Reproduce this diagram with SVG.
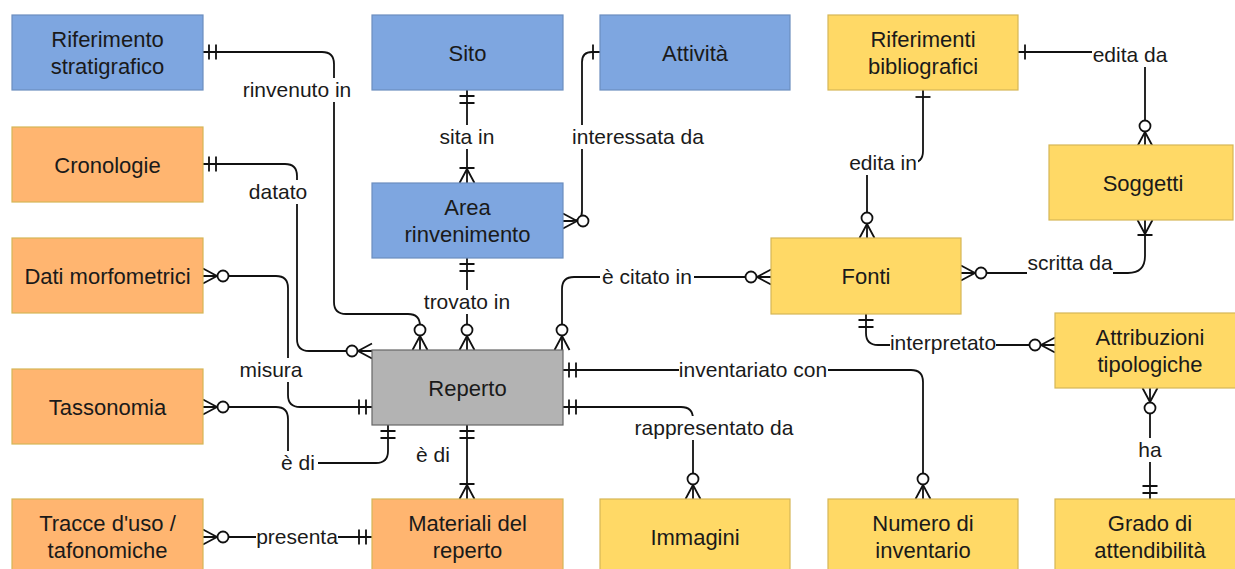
<svg xmlns="http://www.w3.org/2000/svg" width="1235" height="569" viewBox="0 0 1235 569">
<style>
.n rect{stroke-width:1.2}
.blue rect{fill:#7EA6E0;stroke:#6C8EBF}
.orange rect{fill:#FFB570;stroke:#D6B656}
.yellow rect{fill:#FFD966;stroke:#D6B656}
.gray rect{fill:#B3B3B3;stroke:#666666}
.n text{font-family:"Liberation Sans",Arial,sans-serif;font-size:22px;fill:#1a1a1a;text-anchor:middle}
.c path{fill:none;stroke:#111;stroke-width:1.8}
.mk{fill:none;stroke:#111;stroke-width:1.8}
.mkc{fill:#fff;stroke:#111;stroke-width:1.8}
.lb rect{fill:#fff;stroke:none}
.lb text{font-family:"Liberation Sans",Arial,sans-serif;font-size:21px;fill:#1a1a1a;text-anchor:middle}
</style>
<defs>
<marker id="one" markerUnits="userSpaceOnUse" orient="auto-start-reverse" overflow="visible" refX="0" refY="0" markerWidth="40" markerHeight="40"><path class="mk" d="M-7,-7.5V7.5"/></marker>
<marker id="mone" markerUnits="userSpaceOnUse" orient="auto-start-reverse" overflow="visible" refX="0" refY="0" markerWidth="40" markerHeight="40"><path class="mk" d="M-6,-7.5V7.5M-13,-7.5V7.5"/></marker>
<marker id="zmany" markerUnits="userSpaceOnUse" orient="auto-start-reverse" overflow="visible" refX="0" refY="0" markerWidth="40" markerHeight="40"><path class="mk" d="M0,-7.5L-14,0L0,7.5"/><circle class="mkc" cx="-20" cy="0" r="5.5"/></marker>
<marker id="omany" markerUnits="userSpaceOnUse" orient="auto-start-reverse" overflow="visible" refX="0" refY="0" markerWidth="40" markerHeight="40"><path class="mk" d="M0,-7.5L-14,0L0,7.5M-15,-7.5V7.5"/></marker>
</defs>
<rect width="1235" height="569" fill="#fff"/>
<g id="connectors" class="c">
<path d="M203,52H322Q334,52 334,64V302Q334,314 346,314H408Q420,314 420,326V350" marker-start="url(#mone)" marker-end="url(#zmany)"/>
<path d="M203,164H285Q297,164 297,176V339Q297,351 309,351H372" marker-start="url(#mone)" marker-end="url(#zmany)"/>
<path d="M203,276H276Q288,276 288,288V395Q288,407 300,407H372" marker-start="url(#zmany)" marker-end="url(#mone)"/>
<path d="M203,407H276Q288,407 288,419V451Q288,463 300,463H376Q388,463 388,451V425" marker-start="url(#zmany)" marker-end="url(#mone)"/>
<path d="M203,537H372" marker-start="url(#zmany)" marker-end="url(#mone)"/>
<path d="M467,90V183" marker-start="url(#mone)" marker-end="url(#omany)"/>
<path d="M600,52H592Q582,52 582,62V211Q582,221 572,221H563" marker-start="url(#one)" marker-end="url(#zmany)"/>
<path d="M467,258V350" marker-start="url(#mone)" marker-end="url(#zmany)"/>
<path d="M562,350V289Q562,277 574,277H771" marker-start="url(#zmany)" marker-end="url(#zmany)"/>
<path d="M563,370H911Q923,370 923,382V499" marker-start="url(#mone)" marker-end="url(#zmany)"/>
<path d="M563,407H681Q693,407 693,419V499" marker-start="url(#mone)" marker-end="url(#zmany)"/>
<path d="M467,425V499" marker-start="url(#mone)" marker-end="url(#omany)"/>
<path d="M1018,52H1133Q1145,52 1145,64V146" marker-start="url(#one)" marker-end="url(#zmany)"/>
<path d="M923,90V151Q923,163 911,163H879Q867,163 867,175V238" marker-start="url(#one)" marker-end="url(#zmany)"/>
<path d="M961,273H1128Q1145,273 1145,256V220" marker-start="url(#zmany)" marker-end="url(#omany)"/>
<path d="M866,314V333Q866,345 878,345H1055" marker-start="url(#mone)" marker-end="url(#zmany)"/>
<path d="M1150,388V499" marker-start="url(#zmany)" marker-end="url(#mone)"/>
</g>
<g id="labels" class="lb">
<rect x="242" y="78" width="110" height="24"/><text x="297" y="97">rinvenuto in</text>
<rect x="246" y="180" width="64" height="24"/><text x="278" y="199">datato</text>
<rect x="236" y="358" width="70" height="24"/><text x="271" y="377">misura</text>
<rect x="278" y="451" width="40" height="24"/><text x="298" y="470">è di</text>
<rect x="256" y="525" width="82" height="24"/><text x="297" y="544">presenta</text>
<rect x="437" y="125" width="60" height="24"/><text x="467" y="144">sita in</text>
<rect x="570" y="125" width="137" height="24"/><text x="638" y="144">interessata da</text>
<rect x="421" y="290" width="92" height="24"/><text x="467" y="309">trovato in</text>
<rect x="600" y="265" width="94" height="24"/><text x="647" y="284">è citato in</text>
<rect x="679" y="358" width="149" height="24"/><text x="753" y="377">inventariato con</text>
<rect x="634" y="416" width="160" height="24"/><text x="714" y="435">rappresentato da</text>
<rect x="413" y="443" width="40" height="24"/><text x="433" y="462">è di</text>
<rect x="1092" y="43" width="76" height="24"/><text x="1130" y="62">edita da</text>
<rect x="848" y="151" width="70" height="24"/><text x="883" y="170">edita in</text>
<rect x="1027" y="251" width="86" height="25"/><text x="1070" y="270">scritta da</text>
<rect x="890" y="331" width="106" height="24"/><text x="943" y="350">interpretato</text>
<rect x="1137" y="438" width="26" height="24"/><text x="1150" y="457">ha</text>
</g>
<g id="rifstrat" class="n blue"><rect x="12" y="15" width="191" height="75"/><text x="107.5" y="47">Riferimento</text><text x="107.5" y="74">stratigrafico</text></g>
<g id="sito" class="n blue"><rect x="372" y="15" width="191" height="75"/><text x="467.5" y="60.5">Sito</text></g>
<g id="attivita" class="n blue"><rect x="600" y="15" width="190" height="75"/><text x="695" y="60.5">Attività</text></g>
<g id="rifbib" class="n yellow"><rect x="828" y="15" width="190" height="75"/><text x="923" y="47">Riferimenti</text><text x="923" y="74">bibliografici</text></g>
<g id="cronologie" class="n orange"><rect x="12" y="127" width="191" height="75"/><text x="107.5" y="172.5">Cronologie</text></g>
<g id="area" class="n blue"><rect x="372" y="183" width="191" height="75"/><text x="467.5" y="215">Area</text><text x="467.5" y="242">rinvenimento</text></g>
<g id="soggetti" class="n yellow"><rect x="1049" y="145" width="184" height="75"/><text x="1143" y="190.5">Soggetti</text></g>
<g id="datimorf" class="n orange"><rect x="12" y="238" width="191" height="75"/><text x="107.5" y="283.5">Dati morfometrici</text></g>
<g id="fonti" class="n yellow"><rect x="771" y="238" width="190" height="76"/><text x="866" y="284">Fonti</text></g>
<g id="reperto" class="n gray"><rect x="372" y="350" width="191" height="75"/><text x="467.5" y="395.5">Reperto</text></g>
<g id="attrib" class="n yellow"><rect x="1055" y="313" width="190" height="75"/><text x="1150" y="345">Attribuzioni</text><text x="1150" y="372">tipologiche</text></g>
<g id="tassonomia" class="n orange"><rect x="12" y="369" width="191" height="75"/><text x="107.5" y="414.5">Tassonomia</text></g>
<g id="tracce" class="n orange"><rect x="12" y="499" width="191" height="75"/><text x="107.5" y="531">Tracce d'uso /</text><text x="107.5" y="558">tafonomiche</text></g>
<g id="materiali" class="n orange"><rect x="372" y="499" width="191" height="75"/><text x="467.5" y="531">Materiali del</text><text x="467.5" y="558">reperto</text></g>
<g id="immagini" class="n yellow"><rect x="600" y="499" width="190" height="75"/><text x="695" y="544.5">Immagini</text></g>
<g id="numero" class="n yellow"><rect x="828" y="499" width="190" height="75"/><text x="923" y="531">Numero di</text><text x="923" y="558">inventario</text></g>
<g id="grado" class="n yellow"><rect x="1055" y="499" width="190" height="75"/><text x="1150" y="531">Grado di</text><text x="1150" y="558">attendibilità</text></g>
</svg>
